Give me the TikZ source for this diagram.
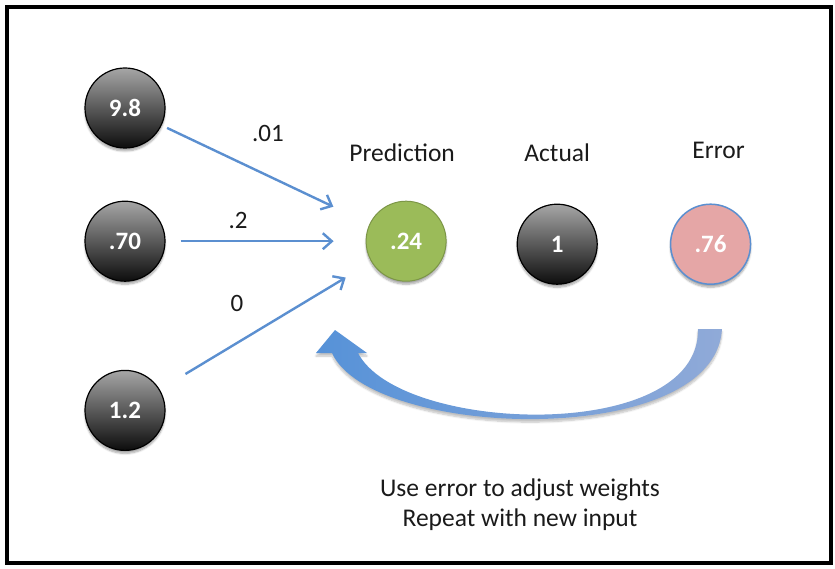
\documentclass[tikz,border=0pt]{standalone}
\usepackage{fontspec}
\setmainfont{Carlito}
\usetikzlibrary{positioning, arrows.meta, shadows.blur}
\definecolor{weightblue}{HTML}{5B8FD0}
\definecolor{predgreen}{HTML}{9BBB59}
\definecolor{errpink}{HTML}{E5A6A6}
\definecolor{loopdark}{HTML}{5692D8}
\definecolor{looplight}{HTML}{90AAD8}
\definecolor{inktext}{HTML}{1A1A1A}
\tikzset{
    x=1pt, y=-1pt, % one unit per pixel, y runs downwards
    neuron/.style={circle, minimum size=80pt, inner sep=0pt, text=white,
        font=\fontsize{25}{30}\selectfont\bfseries,
        blur shadow={shadow xshift=0pt, shadow yshift=-3pt, shadow blur steps=6, shadow opacity=35}}, % every circle
    darkneuron/.style={neuron, draw=black, line width=1.2pt, top color=black!35, bottom color=black!95}, % grey to black circles
    heading/.style={text=inktext, font=\fontsize{25.5}{30}\selectfont}, % labels over the circles
    wlabel/.style={text=inktext, font=\fontsize{25}{30}\selectfont}, % weights on the arrows
}
\tikzstyle{weight} = [draw=weightblue, line width=2.4pt, -{Straight Barb[length=9pt, width=16pt]}]

\begin{document}
\begin{tikzpicture}
    \useasboundingbox (0,0) rectangle (835,569);
    \draw[line width=4pt] (7,7) rectangle (831,563);

    % inputs
    \node[darkneuron] (in1) at (125,108) {9.8};
    \node[darkneuron] (in2) [below=52pt of in1] {.70};
    \node[darkneuron] (in3) [below=88pt of in2] {1.2};

    % outputs
    \node[neuron, draw=predgreen!80!black, line width=1pt, fill=predgreen] (pred) [right=200pt of in2] {.24};
    \node[darkneuron] (actual) [right=70pt of pred, yshift=-3pt] {1};
    \node[neuron, draw=weightblue, line width=1.5pt, fill=errpink] (err) [right=72pt of actual] {.76};

    \node[heading] (predlbl) [above=35pt of pred, xshift=-4pt] {Prediction};
    \node[heading] (actuallbl) [above=38pt of actual] {Actual};
    \node[heading] (errlbl) [above=41pt of err, xshift=8pt] {Error};

    % weighted inputs
    \draw[weight, shorten <=6pt, shorten >=40pt] (in1) -- (pred);
    \draw[weight, shorten <=15pt, shorten >=32pt] (in2) -- (pred);
    \draw[weight, shorten <=30pt, shorten >=30pt] (in3) -- (pred);
    \node[wlabel] (w1) at (268,133) {.01};
    \node[wlabel] (w2) at (238,220) {.2};
    \node[wlabel] (w3) at (237,303) {0};

    % feedback arrow
    \shade[left color=loopdark, right color=looplight,
        blur shadow={shadow xshift=0pt, shadow yshift=-3pt, shadow blur steps=6, shadow opacity=25}]
        (332,353) .. controls (372,440) and (715,450) .. (722,329)
        -- (698,329) .. controls (700,444) and (400,434) .. (358,353)
        -- (367,353) -- (335,330) -- (316,353) -- cycle;

    \node[heading, align=center] (note) at (520,505) {Use error to adjust weights\\Repeat with new input};
\end{tikzpicture}
\end{document}
